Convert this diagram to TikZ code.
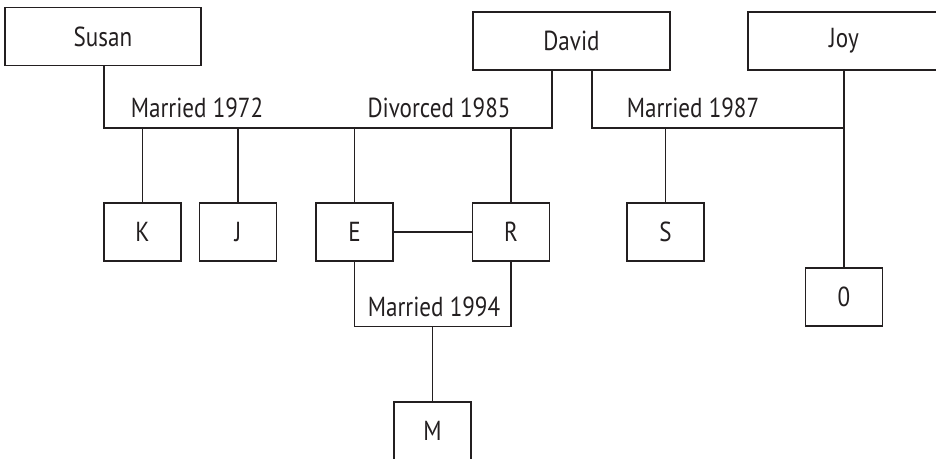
\documentclass[tikz,border=0pt]{standalone}
\usepackage{fontspec}
\setmainfont{PT Sans}[FakeStretch=0.84]
\begin{document}
\begin{tikzpicture}[x=1pt, y=-1pt, line width=1.5pt, color={rgb,255:red,35;green,31;blue,32},
    font=\fontsize{27.5}{32}\selectfont,
    person/.style={draw, minimum width=196pt, minimum height=58pt, inner sep=0pt},
    kid/.style={draw, minimum width=77pt, minimum height=58pt, inner sep=0pt},
    lbl/.style={anchor=base, inner sep=0pt}]
  \useasboundingbox (0,0) rectangle (936,458);
  \node[person] (susan) at (103,36.5) {Susan};
  \node[person, minimum width=197pt] (david) at (571.5,41) {David};
  \node[person, minimum width=192pt] (joy) at (844,41) {Joy};
  \node[kid] (k) at (142.5,232) {K};
  \node[kid] (j) at (238,232) {J};
  \node[kid] (e) at (354.5,232) {E};
  \node[kid] (r) at (511,232) {R};
  \node[kid] (s) at (665.5,232) {S};
  \node[kid] (o) at (844,297) {0};
  \node[kid] (m) at (432.5,431) {M};
  \coordinate (m72) at (104,128);
  \coordinate (d85) at (552,128);
  \coordinate (m87) at (592,128);
  \coordinate (m94) at (354.5,326.5);
  \node[lbl] (l72) at (197,117) {Married 1972};
  \node[lbl] (l85) at (439,117) {Divorced 1985};
  \node[lbl] (l87) at (693,117) {Married 1987};
  \node[lbl] (l94) at (434,316.5) {Married 1994};
  \draw (susan.south -| m72) -- (m72) -- (d85) -- (d85 |- david.south);
  \draw (m87 |- david.south) -- (m87) -- (m87 -| joy.south);
  \draw (joy.south) -- (o.north);
  \draw (k.north) -- (k.north |- m72);
  \draw (j.north) -- (j.north |- m72);
  \draw (e.north) -- (e.north |- m72);
  \draw (r.north) -- (r.north |- m72);
  \draw (s.north) -- (s.north |- m87);
  \draw (e) -- (r);
  \draw (e.south) -- (m94) -- (m94 -| r.south) -- (r.south);
  \draw (m.north) -- (m.north |- m94);
\end{tikzpicture}
\end{document}
